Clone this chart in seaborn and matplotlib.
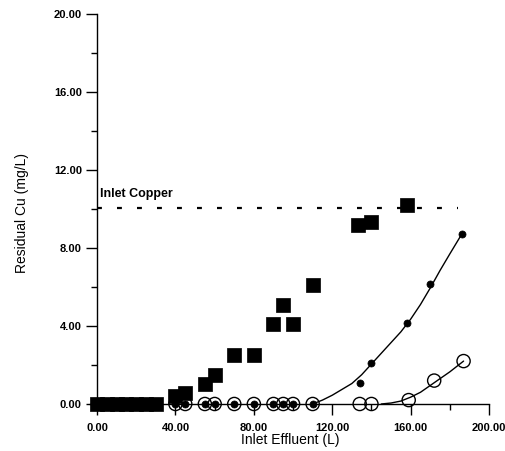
import matplotlib
matplotlib.use("Agg")
import matplotlib.pyplot as plt
from matplotlib.ticker import MultipleLocator, FormatStrFormatter
import seaborn as sns

# squares: residual Cu, first column
SQ_X = [0, 5, 10, 15, 20, 25, 30, 40, 45, 55, 60, 70, 80, 90, 95, 100, 110, 133, 140, 158]
SQ_Y = [0, 0, 0, 0, 0, 0, 0, 0.4, 0.55, 1.0, 1.5, 2.5, 2.5, 4.1, 5.1, 4.1, 6.1, 9.2, 9.35, 10.2]

# filled circles
FC_X = [40, 45, 55, 60, 70, 80, 90, 95, 100, 110, 134, 140, 158, 170, 186]
FC_Y = [0, 0, 0, 0, 0, 0, 0, 0, 0, 0, 1.1, 2.1, 4.15, 6.15, 8.7]

# open circles
OC_X = [40, 45, 55, 60, 70, 80, 90, 95, 100, 110, 134, 140, 159, 172, 187]
OC_Y = [0, 0, 0, 0, 0, 0, 0, 0, 0, 0, 0, 0, 0.2, 1.2, 2.2]

# fitted curves
FIT1_X = [110, 115, 120, 125, 130, 135, 140, 145, 150, 155, 160, 165, 170, 175, 180, 186]
FIT1_Y = [0, 0.2, 0.45, 0.75, 1.05, 1.5, 2.05, 2.6, 3.15, 3.7, 4.35, 5.1, 5.95, 6.85, 7.7, 8.7]
FIT2_X = [145, 150, 155, 160, 165, 170, 175, 180, 187]
FIT2_Y = [0, 0.05, 0.15, 0.35, 0.6, 0.95, 1.3, 1.65, 2.2]

INLET_CU = 10.05
INLET_X = [0, 184]

sns.set_style("ticks")
plt.rcParams["font.family"] = ["Liberation Sans", "DejaVu Sans"]
plt.rcParams["text.color"] = "black"
plt.rcParams["axes.labelcolor"] = "black"
plt.rcParams["xtick.color"] = "black"
plt.rcParams["ytick.color"] = "black"

fig = plt.figure(figsize=(5.06, 4.51), dpi=100)
ax = fig.add_axes([0.1763, 0.0783, 0.7941, 0.8993])

sns.lineplot(x=FIT1_X, y=FIT1_Y, color="black", lw=1.0, estimator=None, ax=ax, zorder=2)
sns.lineplot(x=FIT2_X, y=FIT2_Y, color="black", lw=1.0, estimator=None, ax=ax, zorder=2)
ax.plot(INLET_X, [INLET_CU, INLET_CU], color="black", lw=1.6, dashes=(2.2, 6.8), zorder=2)

sns.scatterplot(x=SQ_X, y=SQ_Y, marker="s", s=105, color="black", edgecolor="black",
                linewidth=0.5, ax=ax, zorder=3, clip_on=False)
sns.scatterplot(x=OC_X, y=OC_Y, marker="o", s=90, facecolor="none", edgecolor="black",
                linewidth=1.0, ax=ax, zorder=4, clip_on=False)
sns.scatterplot(x=FC_X, y=FC_Y, marker="o", s=26, color="black", edgecolor="black",
                linewidth=0.5, ax=ax, zorder=5, clip_on=False)

ax.text(1.5, 10.45, "Inlet Copper", fontsize=9, fontweight="bold", ha="left", va="bottom")

ax.set_xlim(-4, 201)
ax.set_ylim(-0.6, 20.2)
ax.spines["top"].set_visible(False)
ax.spines["right"].set_visible(False)
ax.spines["left"].set_position(("data", 0))
ax.spines["left"].set_bounds(0, 20)
ax.spines["bottom"].set_position(("data", 0))
ax.spines["bottom"].set_bounds(-3.5, 200)
for sp in ("left", "bottom"):
    ax.spines[sp].set_linewidth(1.0)
    ax.spines[sp].set_color("black")

ax.xaxis.set_major_locator(MultipleLocator(40))
ax.xaxis.set_minor_locator(MultipleLocator(20))
ax.yaxis.set_major_locator(MultipleLocator(4))
ax.yaxis.set_minor_locator(MultipleLocator(2))
ax.xaxis.set_major_formatter(FormatStrFormatter("%.2f"))
ax.yaxis.set_major_formatter(FormatStrFormatter("%.2f"))
ax.tick_params(which="major", direction="out", length=8, width=1.0, color="black",
               labelsize=8, pad=3)
ax.tick_params(which="minor", direction="out", length=4, width=1.0, color="black")
ax.tick_params(axis="x", which="major", pad=6)
for lab in ax.get_xticklabels() + ax.get_yticklabels():
    lab.set_fontweight("bold")

ax.set_xlabel("Inlet Effluent (L)", fontsize=10, labelpad=0)
ax.set_ylabel("Residual Cu (mg/L)", fontsize=10, labelpad=18)
ax.grid(False)

fig.savefig("out.png", dpi=100)
